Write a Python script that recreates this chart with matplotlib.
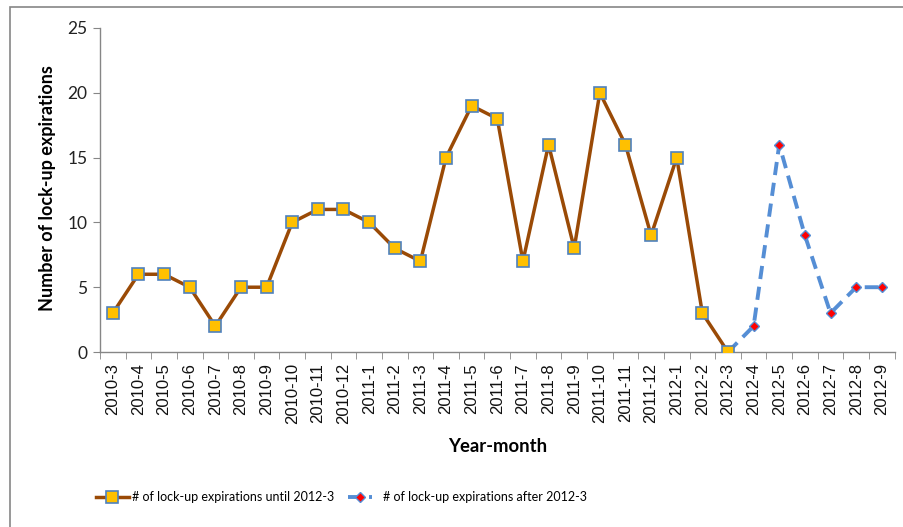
import matplotlib
matplotlib.use("Agg")
import matplotlib.pyplot as plt
from matplotlib.patches import Rectangle
from matplotlib.lines import Line2D

months = ["2010-3", "2010-4", "2010-5", "2010-6", "2010-7", "2010-8", "2010-9",
          "2010-10", "2010-11", "2010-12", "2011-1", "2011-2", "2011-3", "2011-4",
          "2011-5", "2011-6", "2011-7", "2011-8", "2011-9", "2011-10", "2011-11",
          "2011-12", "2012-1", "2012-2", "2012-3", "2012-4", "2012-5", "2012-6",
          "2012-7", "2012-8", "2012-9"]
until_vals = [3, 6, 6, 5, 2, 5, 5, 10, 11, 11, 10, 8, 7, 15, 19, 18, 7, 16, 8,
              20, 16, 9, 15, 3, 0]
after_months = ["2012-3", "2012-4", "2012-5", "2012-6", "2012-7", "2012-8", "2012-9"]
after_vals = [0, 2, 16, 9, 3, 5, 5]

BROWN = "#9A4A06"
GOLD = "#FFC000"
BLUE = "#558ED5"
EDGE = "#4F81BD"
RED = "#FF0000"
AXIS = "#868686"
CAL = "Lato"
ARIAL = "Liberation Sans"

brown_style = dict(color=BROWN, lw=2.5, marker="s", ms=8, mfc=GOLD, mec=EDGE, mew=1.2)
blue_style = dict(color=BLUE, lw=2.8, ls=(0, (3.4, 2.0)), marker="D", ms=5.5,
                  mfc=RED, mec=BLUE, mew=1.0)

fig = plt.figure(figsize=(9.04, 5.27), dpi=100)
fig.patch.set_facecolor("white")
fig.patches.append(Rectangle((0.011, -0.02), 1.0, 1.007, transform=fig.transFigure,
                             fill=False, edgecolor=AXIS, lw=1.2))

ax = fig.add_axes([0.1106, 0.332, 0.879, 0.615])
x_until = [months.index(m) for m in months[:len(until_vals)]]
x_after = [months.index(m) for m in after_months]

ax.plot(x_after, after_vals, zorder=3, **blue_style)
ax.plot(x_until, until_vals, zorder=4, **brown_style)

ax.set_xlim(-0.5, len(months) - 0.5)
ax.set_ylim(0, 25)
ax.set_yticks(range(0, 26, 5))
ax.set_yticklabels([str(v) for v in range(0, 26, 5)], fontname=CAL, fontsize=12.5,
                   color="#222222")
ax.set_xticks(range(len(months)))
ax.set_xticklabels(months, rotation=90, fontname=ARIAL, fontsize=12, color="#111111")
ax.set_xticks([i - 0.5 for i in range(len(months) + 1)], minor=True)
ax.tick_params(axis="x", which="major", length=0, pad=8)
ax.tick_params(axis="x", which="minor", length=5, color=AXIS, direction="out")
ax.tick_params(axis="y", length=5, color=AXIS, pad=4)

for side in ["top", "right"]:
    ax.spines[side].set_visible(False)
for side in ["left", "bottom"]:
    ax.spines[side].set_color(AXIS)
    ax.spines[side].set_linewidth(1.0)

ax.set_ylabel("Number of lock-up expirations", fontname=CAL, fontsize=13,
              fontweight="bold")
ax.yaxis.set_label_coords(-0.0553, 0.506)
fig.text(0.551, 0.152, "Year-month", fontname=CAL, fontsize=13.3,
         fontweight="bold", ha="center", va="center")

# legend drawn by hand so each key keeps its own length
ly = 0.057
fig.add_artist(Line2D([0.106, 0.143], [ly, ly], transform=fig.transFigure,
                      color=BROWN, lw=2.5))
fig.add_artist(Line2D([0.124], [ly], transform=fig.transFigure, ls="none",
                      marker="s", ms=8, mfc=GOLD, mec=EDGE, mew=1.2))
fig.text(0.146, ly, "# of lock-up expirations until 2012-3", fontname=CAL,
         fontsize=9, va="center", ha="left")
fig.add_artist(Line2D([0.385, 0.412], [ly, ly], transform=fig.transFigure,
                      color=BLUE, lw=2.8, ls=(0, (3.4, 2.0))))
fig.add_artist(Line2D([0.3985], [ly], transform=fig.transFigure, ls="none",
                      marker="D", ms=5.5, mfc=RED, mec=BLUE, mew=1.0))
fig.text(0.424, ly, "# of lock-up expirations after 2012-3", fontname=CAL,
         fontsize=9, va="center", ha="left")

fig.savefig("out.png", dpi=100, facecolor="white")
